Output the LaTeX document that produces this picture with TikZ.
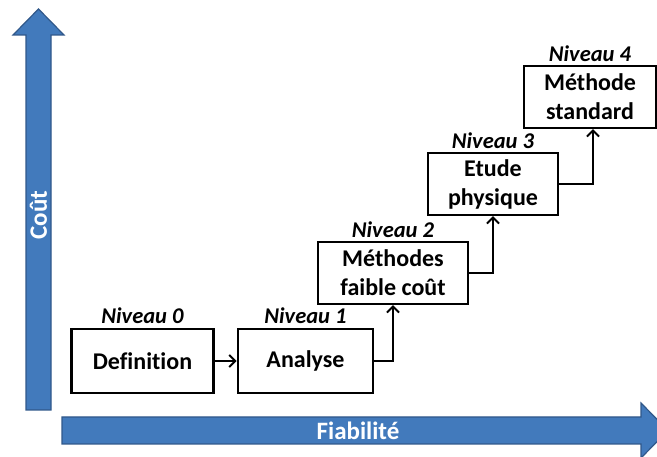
\documentclass[tikz,border=0pt]{standalone}
\usepackage{fontspec}
\setmainfont{Carlito}[Ligatures={NoCommon}]
\usetikzlibrary{arrows.meta}
\definecolor{axfill}{RGB}{66,122,188}
\definecolor{axline}{RGB}{48,88,138}
\tikzset{
  stepbox/.style={draw=black, line width=2.2pt, fill=white, align=center,
    inner sep=0pt, font=\fontsize{24}{29}\selectfont\bfseries},
  lvl/.style={font=\fontsize{22.5}{24}\selectfont\bfseries\itshape, inner sep=0pt},
  link/.style={line width=2.2pt, -{Straight Barb[length=6pt,width=12pt,line width=2pt]}},
  axis/.style={fill=axfill, draw=axline, line width=1.2pt},
  axtext/.style={text=white, font=\fontsize{25}{28}\selectfont\bfseries, inner sep=0pt}
}
\begin{document}
\begin{tikzpicture}[x=1pt,y=-1pt]
\useasboundingbox (0,0) rectangle (657,457);
\begin{scope}
\clip (0,0) rectangle (657,457);
% axes
\draw[axis] (26,410) -- (26,35) -- (13,35) -- (38.5,9) -- (64,35) -- (51,35) -- (51,410) -- cycle;
\draw[axis] (62,444) -- (62,417) -- (641,417) -- (641,403) -- (668,430.5) -- (641,458) -- (641,444) -- cycle;
\end{scope}
\node[axtext, rotate=90] (cout) at (38.5,215) {Coût};
\node[axtext] (fiab) at (358,431) {Fiabilité};
% boxes
\node[stepbox, minimum width=142pt, minimum height=64pt] (def) at (142.5,361) {Definition};
\node[stepbox, minimum width=135.5pt, minimum height=64pt] (ana) at (305.5,361) {Analyse};
\node[stepbox, minimum width=150pt, minimum height=62pt] (meth) at (393,273) {Méthodes\\faible coût};
\node[stepbox, minimum width=130pt, minimum height=62pt] (etude) at (493,184) {Etude\\physique};
\node[stepbox, minimum width=132pt, minimum height=62pt] (std) at (590,97) {Méthode\\standard};
% level labels
\node[lvl] (l0) at ([yshift=12pt]def.north) {Niveau 0};
\node[lvl] (l1) at ([yshift=12pt]ana.north) {Niveau 1};
\node[lvl] (l2) at ([yshift=11pt]meth.north) {Niveau 2};
\node[lvl] (l3) at ([yshift=11pt]etude.north) {Niveau 3};
\node[lvl] (l4) at ([yshift=11pt]std.north) {Niveau 4};
% connectors
\draw[link] (def.east) -- (ana.west);
\draw[link] (ana.east) -| (meth.south);
\draw[link] (meth.east) -| (etude.south);
\draw[link] (etude.east) -| ([xshift=3pt]std.south);
\end{tikzpicture}
\end{document}
